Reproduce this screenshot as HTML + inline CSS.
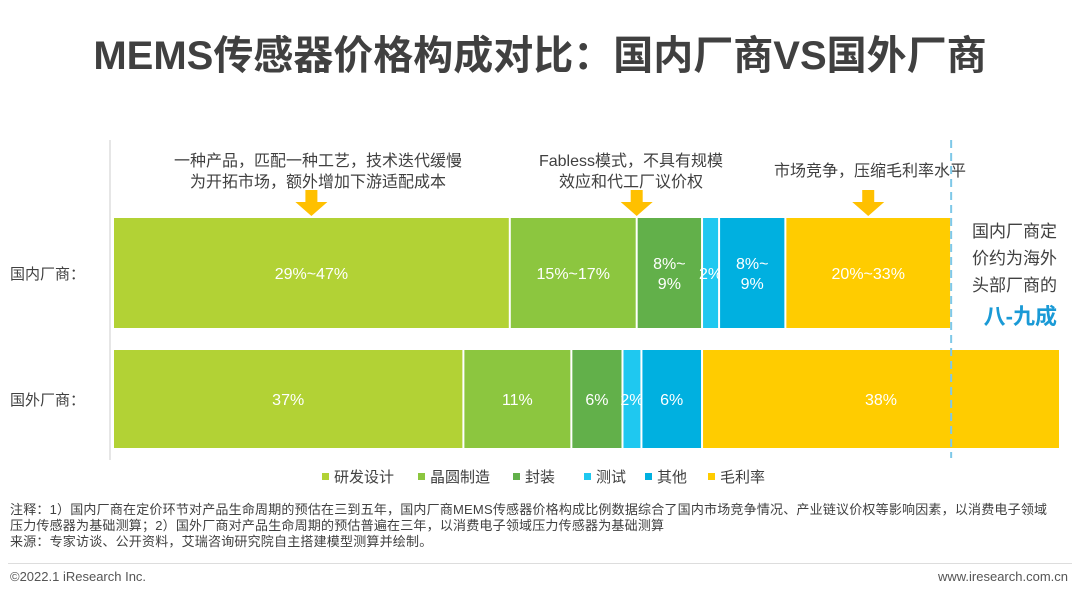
<!DOCTYPE html>
<html><head><meta charset="utf-8"><style>
body{margin:0;width:1080px;height:597px;background:#fff;font-family:"Liberation Sans","Noto Sans CJK SC",sans-serif;overflow:hidden;position:relative}
.t{position:absolute;white-space:nowrap}
</style></head><body>
<div class="t" style="left:0;width:1080px;top:23px;text-align:center;font-size:40px;font-weight:bold;color:#404040">MEMS传感器价格构成对比：国内厂商VS国外厂商</div>
<svg id="c" width="1080" height="597" style="position:absolute;left:0;top:0"></svg>
<div class="t" style="left:10px;top:502px;font-size:13px;letter-spacing:0.2px;line-height:16px;color:#404040">注释：1）国内厂商在定价环节对产品生命周期的预估在三到五年，国内厂商MEMS传感器价格构成比例数据综合了国内市场竞争情况、产业链议价权等影响因素，以消费电子领域<br>压力传感器为基础测算；2）国外厂商对产品生命周期的预估普遍在三年，以消费电子领域压力传感器为基础测算<br>来源：专家访谈、公开资料，艾瑞咨询研究院自主搭建模型测算并绘制。</div>
<div style="position:absolute;left:8px;top:563px;width:1064px;border-top:1px solid #ddd"></div>
<div class="t" style="left:10px;top:569px;font-size:13px;color:#555">©2022.1 iResearch Inc.</div>
<div class="t" style="right:12px;top:569px;font-size:13px;color:#555">www.iresearch.com.cn</div>
<script>
const categories=["国内厂商：","国外厂商："];
const seriesNames=["研发设计","晶圆制造","封装","测试","其他","毛利率"];
const domesticValues=[41.9,13.4,6.9,1.8,7.0,17.5];
const domesticLabels=["29%~47%","15%~17%","8%~\n9%","2%","8%~\n9%","20%~33%"];
const foreignValues=[37,11.4,5.4,2,6.4,37.8];
const foreignLabels=["37%","11%","6%","2%","6%","38%"];
const colors=["#b2d235","#8cc63f","#62b04a","#1fc8f0","#00b0e0","#ffcc00"];
const notes=[["一种产品，匹配一种工艺，技术迭代缓慢","为开拓市场，额外增加下游适配成本"],["Fabless模式，不具有规模","效应和代工厂议价权"],["市场竞争，压缩毛利率水平"]];
const noteSeg=[0,1,5];
const NS="http://www.w3.org/2000/svg";
const svg=document.getElementById('c');
const x0=113,scale=947/100;
const xs=v=>x0+v*scale;
const rows=[{y:218,h:110,vals:domesticValues,labs:domesticLabels},{y:350,h:98,vals:foreignValues,labs:foreignLabels}];
function mk(tag,a){const e=document.createElementNS(NS,tag);for(const k in a)e.setAttribute(k,a[k]);svg.appendChild(e);return e;}
const ax=mk('line',{x1:110,y1:140,x2:110,y2:460,stroke:'#ccc','stroke-width':1});


rows.forEach((r,ri)=>{
  let cum=0;
  const cl=mk('text',{x:10,y:r.y+r.h/2+6,'font-size':15,fill:'#404040'});
  cl.textContent=categories[ri];
  
  
  r.vals.forEach((v,i)=>{
    const xa=xs(cum),xb=xs(cum+v);cum+=v;
    const rc=mk('rect',{x:xa+1,y:r.y,width:Math.max(xb-xa-2,1),height:r.h,fill:colors[i]});
    
    
    const lines=r.labs[i].split('\n');
    const cx=(xa+xb)/2,cy=r.y+r.h/2;
    lines.forEach((ln,k)=>{
      const t=mk('text',{x:cx,y:cy+6+(k-(lines.length-1)/2)*20,'font-size':16,fill:'#fff','text-anchor':'middle'});
      t.textContent=ln;
      
      
    });
  });
});
notes.forEach((n,j)=>{
  const s=noteSeg[j];let a=0;for(let i=0;i<s;i++)a+=domesticValues[i];
  const ax_=j==1?xs(a+domesticValues[s]):(xs(a)+xs(a+domesticValues[s]))/2;
  const tx=j==0?318:j==1?631:870;
  n.forEach((ln,k)=>{
    const t=mk('text',{x:tx,y:(n.length==1?176:166)+k*21,'font-size':16,fill:'#404040','text-anchor':'middle'});
    t.textContent=ln;
    
    
  });
  const ar=mk('polygon',{points:`${ax_-6},190 ${ax_+6},190 ${ax_+6},202 ${ax_+16},202 ${ax_},216 ${ax_-16},202 ${ax_-6},202`,fill:'#ffc000'});
  
  
});
const dl=mk('line',{x1:xs(88.4)+1,y1:140,x2:xs(88.4)+1,y2:458,stroke:'#7ec8e8','stroke-width':2,'stroke-dasharray':'8,5'});


["国内厂商定","价约为海外","头部厂商的"].forEach((ln,k)=>{
  const t=mk('text',{x:1057,y:237+k*27,'font-size':17,fill:'#404040','text-anchor':'end'});
  t.textContent=ln;
  
  
});
const hl=mk('text',{x:1057,y:324,'font-size':22,'font-weight':'bold',fill:'#1a9ad6','text-anchor':'end'});
hl.textContent="八-九成";


const lx=[322,418,513,584,645,708];
seriesNames.forEach((n,i)=>{
  const r=mk('rect',{x:lx[i],y:473,width:7,height:7,fill:colors[i]});
  
  
  const t=mk('text',{x:lx[i]+12,y:482,'font-size':15,fill:'#404040'});
  t.textContent=n;
  
  
});
</script>
</body></html>
